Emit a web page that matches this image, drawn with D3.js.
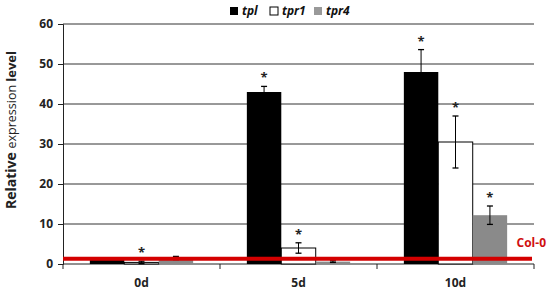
<!DOCTYPE html>
<html>
<head>
<meta charset="utf-8">
<script src="https://cdn.jsdelivr.net/npm/d3@7"></script>
<style>
  body { margin: 0; background: #fff; }
  text { font-family: "Open Sans", "DejaVu Sans", sans-serif; }
</style>
</head>
<body>
<div id="chart"></div>
<script>
// data
var days = ['0d', '5d', '10d'];
var lines = ['tpl', 'tpr1', 'tpr4'];
var tplVals = [1.0, 43.0, 48.0];
var tplErr = [0.5, 1.4, 5.6];
var tpr1Vals = [0.4, 4.0, 30.5];
var tpr1Err = [0.3, 1.3, 6.5];
var tpr4Vals = [1.5, 0.6, 12.2];
var tpr4Err = [0.4, 0.2, 2.3];
var starred = [[false, true, true], [true, true, true], [false, false, true]];
var yTicks = [0, 10, 20, 30, 40, 50, 60];
var col0 = 1.3;

var fills = {tpl: '#000', tpr1: '#fff', tpr4: '#8a8a8a'};

var W = 550, H = 293;
var m = {left: 63, right: 16, top: 24, bottom: 29};

var svg = d3.select('#chart').append('svg')
  .attr('width', W).attr('height', H);

var x0 = d3.scaleBand().domain(days).range([m.left, W - m.right]);
var x1 = d3.scaleBand().domain(lines).range([0, x0.bandwidth()]).paddingOuter(0.78);
var y = d3.scaleLinear().domain([0, 60]).range([H - m.bottom, m.top]);

var rows = [];
days.forEach(function(d, i) {
  rows.push({day: d, line: 'tpl', v: tplVals[i], e: tplErr[i], star: starred[0][i]});
  rows.push({day: d, line: 'tpr1', v: tpr1Vals[i], e: tpr1Err[i], star: starred[1][i]});
  rows.push({day: d, line: 'tpr4', v: tpr4Vals[i], e: tpr4Err[i], star: starred[2][i]});
});

// gridlines
svg.append('g').selectAll('line')
  .data(yTicks.filter(function(t) { return t > 0; }))
  .enter().append('line')
  .attr('x1', m.left).attr('x2', W - m.right)
  .attr('y1', function(d) { return y(d); })
  .attr('y2', function(d) { return y(d); })
  .attr('stroke', '#333').attr('stroke-width', 1);

// y axis
var yAxis = svg.append('g')
  .attr('transform', 'translate(' + m.left + ',0)')
  .call(d3.axisLeft(y).tickValues(yTicks).tickSize(5).tickPadding(5));
yAxis.selectAll('text').attr('font-size', 12).attr('font-weight', 'bold').attr('fill', '#222');
yAxis.selectAll('line, path').attr('stroke', '#222');

// x axis with ticks between groups
var xa = svg.append('g').attr('transform', 'translate(0,' + y(0) + ')');
xa.append('line').attr('x1', m.left).attr('x2', W - m.right)
  .attr('stroke', '#222');
var bounds = days.map(function(d) { return x0(d); }).concat([x0(days[2]) + x0.bandwidth()]);
xa.selectAll('.tk').data(bounds).enter().append('line')
  .attr('x1', function(d) { return d; }).attr('x2', function(d) { return d; })
  .attr('y1', 0).attr('y2', 5).attr('stroke', '#222');
xa.selectAll('.lb').data(days).enter().append('text')
  .attr('x', function(d) { return x0(d) + x0.bandwidth() / 2; })
  .attr('y', 23)
  .attr('text-anchor', 'middle')
  .attr('font-size', 12).attr('font-weight', 'bold').attr('fill', '#222')
  .text(function(d) { return d; });

// bars
var bars = svg.append('g').selectAll('g')
  .data(rows).enter().append('g')
  .attr('transform', function(d) { return 'translate(' + (x0(d.day) + x1(d.line)) + ',0)'; });

bars.append('rect')
  .attr('x', 0).attr('width', x1.bandwidth())
  .attr('y', function(d) { return y(d.v); })
  .attr('height', function(d) { return y(0) - y(d.v); })
  .attr('fill', function(d) { return fills[d.line]; })
  .attr('stroke', function(d) { return d.line == 'tpr1' ? '#000' : 'none'; })
  .attr('stroke-width', 1);

var cx = x1.bandwidth() / 2;
bars.append('line')
  .attr('x1', cx).attr('x2', cx)
  .attr('y1', function(d) { return y(d.v + d.e); })
  .attr('y2', function(d) { return y(Math.max(0, d.v - d.e)); })
  .attr('stroke', '#000');
bars.append('line')
  .attr('x1', cx - 3).attr('x2', cx + 3)
  .attr('y1', function(d) { return y(d.v + d.e); })
  .attr('y2', function(d) { return y(d.v + d.e); })
  .attr('stroke', '#000').attr('stroke-width', 1.3);
bars.filter(function(d) { return d.line != 'tpl'; }).append('line')
  .attr('x1', cx - 3).attr('x2', cx + 3)
  .attr('y1', function(d) { return y(Math.max(0, d.v - d.e)); })
  .attr('y2', function(d) { return y(Math.max(0, d.v - d.e)); })
  .attr('stroke', '#000').attr('stroke-width', 1.3);

bars.filter(function(d) { return d.star; }).append('text')
  .attr('x', cx)
  .attr('y', function(d) { return y(d.v + d.e) - 4; })
  .attr('text-anchor', 'middle')
  .attr('font-size', 13).attr('font-weight', 'bold').attr('fill', '#222')
  .text('*');

// Col-0 reference line
svg.append('line')
  .attr('x1', m.left).attr('x2', W - m.right - 2)
  .attr('y1', y(col0)).attr('y2', y(col0))
  .attr('stroke', '#d40000').attr('stroke-width', 4);
svg.append('text')
  .attr('x', 546).attr('y', y(col0) - 12)
  .attr('text-anchor', 'end')
  .attr('font-size', 12).attr('font-weight', 'bold').attr('fill', '#d01010')
  .text('Col-0');

// y title
var yt = svg.append('text')
  .attr('transform', 'translate(16,' + (y(33.5)) + ') rotate(-90)')
  .attr('text-anchor', 'middle')
  .attr('font-weight', 'bold').attr('fill', '#222');
yt.append('tspan').attr('font-size', 14).text('Relative ');
yt.append('tspan').attr('font-size', 12.5).attr('font-weight', 'normal').text('expression ');
yt.append('tspan').attr('font-size', 13).text('level');

// legend
var lg = svg.append('g').attr('transform', 'translate(230,11)');
var offs = [0, 40, 84];
lines.forEach(function(l, i) {
  var g = lg.append('g').attr('transform', 'translate(' + offs[i] + ',0)');
  g.append('rect').attr('x', 0).attr('y', -4).attr('width', 8).attr('height', 8)
    .attr('fill', l == 'tpr4' ? '#999' : fills[l])
    .attr('stroke', l == 'tpr1' ? '#000' : 'none');
  g.append('text').attr('x', 12).attr('y', 4)
    .attr('font-size', 12).attr('font-weight', 'bold').attr('font-style', 'italic')
    .attr('fill', '#111')
    .text(l);
});
</script>
</body>
</html>
